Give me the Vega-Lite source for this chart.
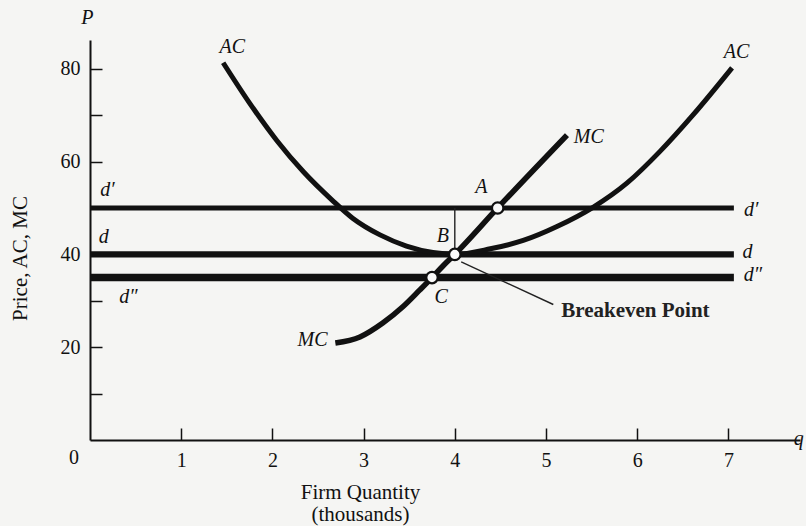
{
  "$schema": "https://vega.github.io/schema/vega-lite/v6.json",
  "width": 710,
  "height": 400,
  "autosize": "none",
  "padding": {"left": 90, "top": 40, "right": 6, "bottom": 86},
  "background": "#f5f5f3",
  "config": {
    "view": {"stroke": null},
    "font": "Liberation Serif",
    "axis": {
      "grid": false,
      "domainColor": "#111",
      "domainWidth": 2,
      "tickColor": "#111",
      "tickWidth": 1.5,
      "tickSize": -12,
      "labelColor": "#111",
      "labelFont": "Liberation Serif",
      "labelFontSize": 20,
      "titleColor": "#111",
      "titleFont": "Liberation Serif",
      "titleFontWeight": "normal",
      "titleFontSize": 21
    }
  },
  "datasets": {
    "demand": [
      {"line": "d'", "q0": 0, "q1": 7.06, "P": 50},
      {"line": "d", "q0": 0, "q1": 7.06, "P": 40},
      {"line": "d''", "q0": 0, "q1": 7.06, "P": 35}
    ],
    "ac": [
      {"q": 1.46, "P": 81.3},
      {"q": 1.75, "P": 72.6},
      {"q": 2.05, "P": 64.5},
      {"q": 2.34, "P": 57.8},
      {"q": 2.66, "P": 51.6},
      {"q": 2.88, "P": 47.8},
      {"q": 3.18, "P": 44.2},
      {"q": 3.47, "P": 41.8},
      {"q": 3.76, "P": 40.4},
      {"q": 4.0, "P": 40.0},
      {"q": 4.39, "P": 41.2},
      {"q": 4.75, "P": 43.0},
      {"q": 5.12, "P": 46.0},
      {"q": 5.52, "P": 50.2},
      {"q": 5.89, "P": 55.4},
      {"q": 6.25, "P": 62.2},
      {"q": 6.61, "P": 70.0},
      {"q": 7.04, "P": 80.2}
    ],
    "mc": [
      {"q": 2.69, "P": 20.9},
      {"q": 2.96, "P": 22.2},
      {"q": 3.21, "P": 25.2},
      {"q": 3.43, "P": 28.7},
      {"q": 3.62, "P": 32.4},
      {"q": 3.75, "P": 35.0},
      {"q": 3.87, "P": 37.5},
      {"q": 4.0, "P": 40.0},
      {"q": 4.47, "P": 50.0},
      {"q": 5.23, "P": 65.7}
    ],
    "thin": [
      {"q0": 4.0, "P0": 40, "q1": 4.0, "P1": 50},
      {"q0": 4.07, "P0": 38.4, "q1": 5.08, "P1": 29.2}
    ],
    "pts": [
      {"name": "A", "q": 4.47, "P": 50},
      {"name": "B", "q": 4.0, "P": 40},
      {"name": "C", "q": 3.75, "P": 35}
    ],
    "italic": [
      {"t": "AC", "q": 1.56, "P": 84.7},
      {"t": "AC", "q": 7.09, "P": 83.6},
      {"t": "MC", "q": 5.47, "P": 65.3},
      {"t": "MC", "q": 2.44, "P": 21.6},
      {"t": "A", "q": 4.29, "P": 54.5},
      {"t": "B", "q": 3.87, "P": 44.0},
      {"t": "C", "q": 3.85, "P": 30.8},
      {"t": "d′", "q": 0.19, "P": 53.9},
      {"t": "d", "q": 0.15, "P": 43.8},
      {"t": "d″", "q": 0.42, "P": 30.8},
      {"t": "d′", "q": 7.25, "P": 49.6},
      {"t": "d", "q": 7.21, "P": 40.5},
      {"t": "d″", "q": 7.27, "P": 35.6},
      {"t": "P", "q": -0.03, "P": 91.0},
      {"t": "q", "q": 7.77, "P": 0.3}
    ],
    "bold": [
      {"t": "Breakeven Point", "q": 5.98, "P": 27.8}
    ],
    "plain": [
      {"t": "0", "q": -0.175, "P": -3.9}
    ]
  },
  "layer": [
    {
      "data": {"name": "demand"},
      "mark": {"type": "rule", "color": "#111"},
      "encoding": {
        "x": {"field": "q0", "type": "quantitative",
          "scale": {"domain": [0, 7.785], "nice": false, "zero": false},
          "axis": {"values": [1, 2, 3, 4, 5, 6, 7], "format": "d", "labelPadding": 22,
            "title": ["Firm Quantity", "(thousands)"], "titleX": 270, "titleY": 41,
            "titleFontSize": 21,
            "titleBaseline": "top", "titleLineHeight": 22, "titleAnchor": null, "titleAlign": "center"}},
        "x2": {"field": "q1"},
        "y": {"field": "P", "type": "quantitative",
          "scale": {"domain": [0, 86.2], "nice": false, "zero": false},
          "axis": {"values": [10, 20, 30, 40, 50, 60, 70, 80],
            "labelExpr": "datum.value % 20 == 0 ? datum.label : ''",
            "labelPadding": 22,
            "title": "Price, AC, MC", "titleX": -70, "titleY": 218, "titleAngle": -90,
            "titleAlign": "center", "titleBaseline": "middle", "titleAnchor": null}},
        "strokeWidth": {"field": "line", "type": "nominal",
          "scale": {"domain": ["d'", "d", "d''"], "range": [5, 7.5, 5.5]}, "legend": null}
      }
    },
    {
      "data": {"name": "ac"},
      "mark": {"type": "line", "color": "#111", "strokeWidth": 5, "interpolate": "monotone", "strokeCap": "butt"},
      "encoding": {
        "x": {"field": "q", "type": "quantitative"},
        "y": {"field": "P", "type": "quantitative"}
      }
    },
    {
      "data": {"name": "mc"},
      "mark": {"type": "line", "color": "#111", "strokeWidth": 5.5, "interpolate": "monotone", "strokeCap": "butt"},
      "encoding": {
        "x": {"field": "q", "type": "quantitative"},
        "y": {"field": "P", "type": "quantitative"}
      }
    },
    {
      "data": {"name": "thin"},
      "mark": {"type": "rule", "color": "#222", "strokeWidth": 1.4},
      "encoding": {
        "x": {"field": "q0", "type": "quantitative"},
        "y": {"field": "P0", "type": "quantitative"},
        "x2": {"field": "q1"},
        "y2": {"field": "P1"}
      }
    },
    {
      "data": {"name": "pts"},
      "mark": {"type": "point", "shape": "circle", "filled": true, "fill": "#fafafa", "stroke": "#111", "strokeWidth": 2.2, "size": 130, "opacity": 1},
      "encoding": {
        "x": {"field": "q", "type": "quantitative"},
        "y": {"field": "P", "type": "quantitative"}
      }
    },
    {
      "data": {"name": "italic"},
      "mark": {"type": "text", "font": "Liberation Serif", "fontStyle": "italic", "fontSize": 20, "color": "#111", "align": "center", "baseline": "middle"},
      "encoding": {
        "x": {"field": "q", "type": "quantitative"},
        "y": {"field": "P", "type": "quantitative"},
        "text": {"field": "t"}
      }
    },
    {
      "data": {"name": "bold"},
      "mark": {"type": "text", "font": "Liberation Serif", "fontWeight": "bold", "fontSize": 21, "color": "#222", "align": "center", "baseline": "middle"},
      "encoding": {
        "x": {"field": "q", "type": "quantitative"},
        "y": {"field": "P", "type": "quantitative"},
        "text": {"field": "t"}
      }
    },
    {
      "data": {"name": "plain"},
      "mark": {"type": "text", "font": "Liberation Serif", "fontSize": 20, "color": "#111", "align": "center", "baseline": "middle"},
      "encoding": {
        "x": {"field": "q", "type": "quantitative"},
        "y": {"field": "P", "type": "quantitative"},
        "text": {"field": "t"}
      }
    }
  ]
}
